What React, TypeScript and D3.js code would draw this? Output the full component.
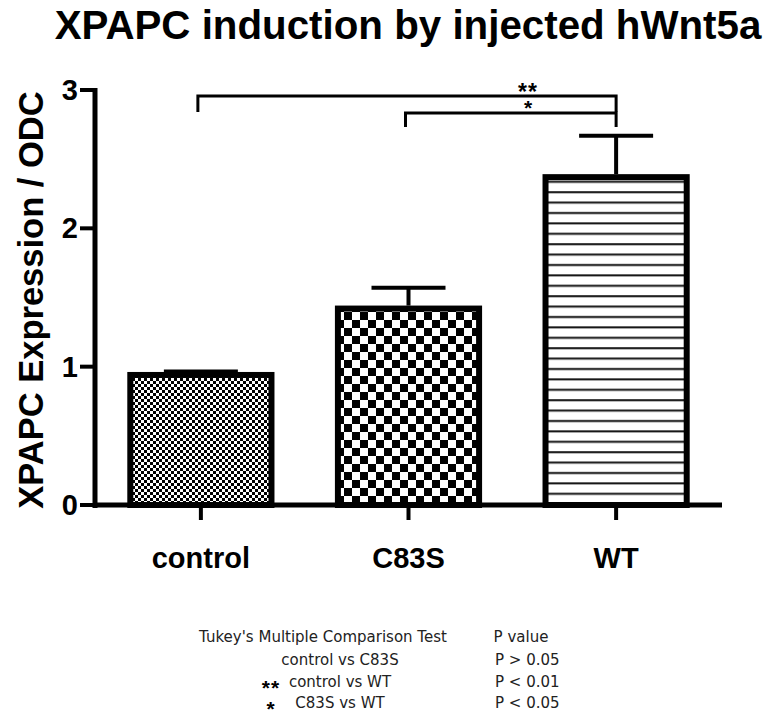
import React from "react";
import * as d3 from "d3";

// values
const groups = ["control", "C83S", "WT"];
const means = [0.94, 1.42, 2.37];
const sems = [0.025, 0.15, 0.3];
const yTicks = [0, 1, 2, 3];

// significance brackets: [from, to, level, label]
const brackets: [string, string, number, string][] = [
  ["control", "WT", 2.957, "**"],
  ["C83S", "WT", 2.834, "*"],
];

const tableHeader = ["Tukey's Multiple Comparison Test", "P value"];
const tableStars = ["", "**", "*"];
const tableRows = ["control vs C83S", "control vs WT", "C83S vs WT"];
const tablePvals = ["P > 0.05", "P < 0.01", "P < 0.05"];

const W = 768;
const H = 728;
const bold = "'Liberation Sans', Arial, sans-serif";

export default function App() {
  const x = d3
    .scaleBand<string>()
    .domain(groups)
    .range([95, 722])
    .paddingInner(0.32)
    .paddingOuter(0.17);
  const y = d3.scaleLinear().domain([0, 3]).range([505, 90]);
  const bw = x.bandwidth();
  const fills = ["url(#fineChecker)", "url(#bigChecker)", "url(#hLines)"];
  const legDrop = [16, 14];

  return (
    <svg
      width={W}
      height={H}
      style={{ position: "absolute", left: 0, top: 0, background: "#fff" }}
    >
      <defs>
        <pattern id="fineChecker" width={6} height={6} patternUnits="userSpaceOnUse">
          <rect width={6} height={6} fill="#fff" />
          <rect width={3} height={3} fill="#000" />
          <rect x={3} y={3} width={3} height={3} fill="#000" />
        </pattern>
        <pattern id="bigChecker" width={16} height={16} patternUnits="userSpaceOnUse">
          <rect width={16} height={16} fill="#fff" />
          <rect width={8} height={8} fill="#000" />
          <rect x={8} y={8} width={8} height={8} fill="#000" />
        </pattern>
        <pattern id="hLines" width={10} height={10.4} patternUnits="userSpaceOnUse">
          <rect width={10} height={10.4} fill="#fff" />
          <rect y={4} width={10} height={2} fill="#111" />
        </pattern>
      </defs>

      <text
        x={408}
        y={39}
        textAnchor="middle"
        fontFamily={bold}
        fontWeight="bold"
        fontSize={40.3}
      >
        XPAPC induction by injected hWnt5a
      </text>

      <text
        transform="translate(43,300) rotate(-90)"
        textAnchor="middle"
        fontFamily={bold}
        fontWeight="bold"
        fontSize={34.5}
      >
        XPAPC Expression / ODC
      </text>

      {/* bars */}
      {groups.map((g, i) => (
        <rect
          key={g}
          x={x(g)!}
          y={y(means[i])}
          width={bw}
          height={y(0) - y(means[i])}
          fill={fills[i]}
          stroke="#000"
          strokeWidth={6}
        />
      ))}

      {/* error bars (upper only) */}
      {groups.map((g, i) => {
        const cx = x(g)! + bw / 2;
        const top = y(means[i] + sems[i]);
        return (
          <g key={g} stroke="#000" strokeWidth={4}>
            <line x1={cx} x2={cx} y1={y(means[i]) - 3} y2={top} />
            <line x1={cx - 37} x2={cx + 37} y1={top} y2={top} />
          </g>
        );
      })}

      {/* axes */}
      <g stroke="#000">
        <line x1={95} x2={95} y1={88} y2={508} strokeWidth={5} />
        <line x1={93} x2={722} y1={y(0)} y2={y(0)} strokeWidth={5} />
        {yTicks.map((t) => (
          <line key={t} x1={80} x2={95} y1={y(t)} y2={y(t)} strokeWidth={4} />
        ))}
        {groups.map((g) => (
          <line
            key={g}
            x1={x(g)! + bw / 2}
            x2={x(g)! + bw / 2}
            y1={y(0)}
            y2={520}
            strokeWidth={4}
          />
        ))}
      </g>
      {yTicks.map((t) => (
        <text
          key={t}
          x={78}
          y={y(t) + 10}
          textAnchor="end"
          fontFamily={bold}
          fontWeight="bold"
          fontSize={29}
        >
          {t}
        </text>
      ))}
      {groups.map((g) => (
        <text
          key={g}
          x={x(g)! + bw / 2}
          y={568}
          textAnchor="middle"
          fontFamily={bold}
          fontWeight="bold"
          fontSize={29}
        >
          {g}
        </text>
      ))}

      {/* significance brackets */}
      {brackets.map(([a, b, lvl, lab], i) => {
        const x1 = x(a)! + bw / 2 - 3;
        const x2 = x(b)! + bw / 2;
        const yy = y(lvl);
        return (
          <g key={lab}>
            <path
              d={`M${x1},${yy + legDrop[i]}V${yy}H${x2}V${yy + legDrop[i]}`}
              fill="none"
              stroke="#000"
              strokeWidth={3}
            />
            <text
              x={528}
              y={yy + (i === 0 ? 4 : 2)}
              textAnchor="middle"
              fontFamily={bold}
              fontWeight="bold"
              fontSize={i === 0 ? 23 : 21}
              letterSpacing={i === 0 ? 1 : 0}
            >
              {lab}
            </text>
          </g>
        );
      })}

      {/* comparison table */}
      <g fontFamily="'DejaVu Sans', sans-serif" fontSize={15} fill="#222">
        <text x={323} y={642} textAnchor="middle">
          {tableHeader[0]}
        </text>
        <text x={521} y={642} textAnchor="middle">
          {tableHeader[1]}
        </text>
        {tableRows.map((r, i) => (
          <g key={r}>
            <text x={340} y={665 + i * 21.5} textAnchor="middle">
              {r}
            </text>
            <text x={495} y={665 + i * 21.5}>
              {tablePvals[i]}
            </text>
            <text
              x={271}
              y={665 + i * 21.5 + 8}
              textAnchor="middle"
              fontFamily={bold}
              fontWeight="bold"
              fontSize={21}
              letterSpacing={1}
              fill="#000"
            >
              {tableStars[i]}
            </text>
          </g>
        ))}
      </g>
    </svg>
  );
}
